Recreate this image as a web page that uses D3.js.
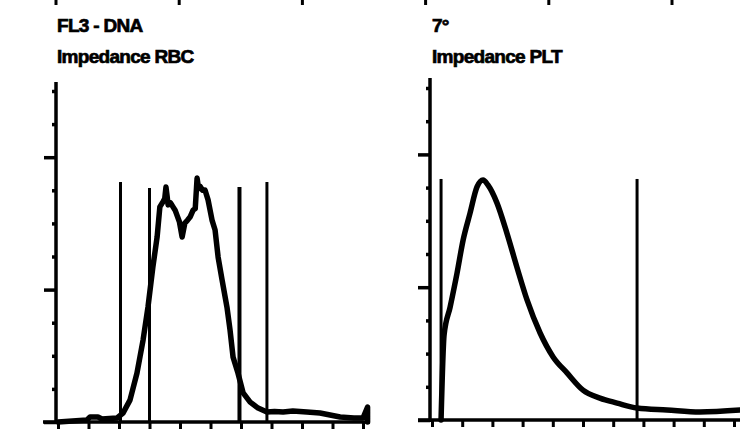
<!DOCTYPE html>
<html>
<head>
<meta charset="utf-8">
<script src="https://cdn.jsdelivr.net/npm/d3@7"></script>
<style>
  html, body { margin: 0; padding: 0; background: #fff; }
  svg { display: block; }
  text { font-family: "Liberation Sans", Arial, sans-serif; font-weight: bold; fill: #000; stroke: #000; stroke-width: 0.7px; }
</style>
</head>
<body>
<svg id="chart" width="740" height="433"></svg>
<script>
// ---------- data ----------
const panelTitles = ["FL3 - DNA", "7°"];
const panelSubtitles = ["Impedance RBC", "Impedance PLT"];
const xTickValues = [0,1,2,3,4,5,6,7,8,9,10];
const yTickValues = [0,1,2,3,4,5,6,7,8,9,10];
const yMajorTicks = [0,4,8];
const topFragmentTicks = [0,1,2,3,4,5];

// RBC histogram (channel, count)
const rbcX = [0,0.95,1.05,1.31,1.44,1.93,2.13,2.36,2.59,2.79,2.95,3.11,3.25,3.34,3.44,3.50,3.54,3.58,3.61,3.69,3.77,3.84,3.90,3.98,4.07,4.16,4.25,4.33,4.43,4.50,4.56,4.61,4.66,4.74,4.82,4.92,5.05,5.15,5.25,5.38,5.54,5.64,5.74,5.90,6.07,6.30,6.56,6.85,7.10,7.38,7.70,8.16,8.59,9.25,9.70,10.0,10.15,10.15];
const rbcY = [0,0.06,0.15,0.15,0.09,0.12,0.27,0.66,1.48,2.48,3.47,4.68,5.59,6.50,6.65,6.75,7.10,6.80,6.56,6.62,6.50,6.40,6.25,6.05,5.59,6.01,6.10,6.19,6.40,6.45,7.37,7.05,7.12,7.00,7.01,6.71,6.10,5.80,4.98,4.29,3.47,2.78,1.96,1.48,0.88,0.60,0.42,0.30,0.32,0.30,0.33,0.30,0.27,0.15,0.12,0.12,0.45,0];
const rbcGates = [2.05, 3.0, 5.95, 6.85];
const rbcGateTops = [7.25, 7.07, 7.1, 7.25];
const rbcGateWeights = [3, 3, 4, 3];

// PLT histogram
const pltX = [0.30,0.40,0.60,0.83,1.03,1.26,1.49,1.69,1.85,2.15,2.48,2.81,3.15,3.58,4.01,4.47,5.00,5.56,6.13,6.79,7.78,8.87,10.2];
const pltY = [0,2.56,3.40,4.43,5.42,6.23,7.02,7.23,7.08,6.54,5.63,4.61,3.61,2.62,1.90,1.42,0.90,0.66,0.51,0.36,0.30,0.24,0.30];
const pltGates = [0.30, 6.79];
const pltGateTops = [7.26, 7.26];
const pltGateWeights = [3, 3];

// ---------- layout ----------
const svg = d3.select("#chart");

const panels = [
  { title: panelTitles[0], sub: panelSubtitles[0], x: d3.scaleLinear().domain([0,10]).range([58,363]),
    y: d3.scaleLinear().domain([0,10]).range([422,91]), axisX: 56, xEnd: 370, xStart: 43, yTopVal: 10.27,
    titleX: 57, xs: rbcX, ys: rbcY, gates: rbcGates, gateTops: rbcGateTops, gateW: rbcGateWeights, curve: d3.curveLinear },
  { title: panelTitles[1], sub: panelSubtitles[1], x: d3.scaleLinear().domain([0,10]).range([432,734]),
    y: d3.scaleLinear().domain([0,10]).range([420,88]), axisX: 430, xEnd: 740, xStart: 418, yTopVal: 10.3,
    titleX: 432, xs: pltX, ys: pltY, gates: pltGates, gateTops: pltGateTops, gateW: pltGateWeights, curve: d3.curveMonotoneX }
];

// cropped tick fragments from the panel row above
const topScale = d3.scaleLinear().domain([0,5]).range([56,672]);
svg.append("g").selectAll("line").data(topFragmentTicks).join("line")
  .attr("x1", d => topScale(d)).attr("x2", d => topScale(d))
  .attr("y1", 0).attr("y2", 5)
  .attr("stroke", "#000").attr("stroke-width", 3);

panels.forEach(p => {
  const g = svg.append("g");

  g.append("text").attr("x", p.titleX).attr("y", 32)
    .attr("font-size", 19).attr("letter-spacing", "-0.7px").text(p.title);
  g.append("text").attr("x", p.titleX).attr("y", 63)
    .attr("font-size", 19).attr("letter-spacing", "-0.7px").text(p.sub);

  // y axis: minor + major ticks
  const yMinor = d3.axisLeft(p.y).tickValues(yTickValues.filter(v => !yMajorTicks.includes(v)))
    .tickSize(4).tickFormat("");
  const yMajor = d3.axisLeft(p.y).tickValues(yMajorTicks).tickSize(12).tickFormat("");
  [yMinor, yMajor].forEach(ax => {
    const a = g.append("g").attr("transform", `translate(${p.axisX},0)`).call(ax);
    a.select(".domain").remove();
    a.selectAll(".tick line").attr("stroke", "#000").attr("stroke-width", 3.5);
  });

  // x axis ticks
  const xAx = d3.axisBottom(p.x).tickValues(xTickValues).tickSize(7).tickFormat("");
  const xa = g.append("g").attr("transform", `translate(0,${p.y(0)})`).call(xAx);
  xa.select(".domain").remove();
  xa.selectAll(".tick line").attr("stroke", "#000").attr("stroke-width", 3);

  // axis lines
  g.append("line").attr("x1", p.axisX).attr("x2", p.axisX)
    .attr("y1", p.y(p.yTopVal)).attr("y2", p.y(0) + 2)
    .attr("stroke", "#000").attr("stroke-width", 3.5);
  g.append("line").attr("x1", p.xStart).attr("x2", p.xEnd)
    .attr("y1", p.y(0)).attr("y2", p.y(0))
    .attr("stroke", "#000").attr("stroke-width", 3.5);

  // gate lines
  g.append("g").selectAll("line").data(p.gates).join("line")
    .attr("x1", d => p.x(d)).attr("x2", d => p.x(d))
    .attr("y1", (d, i) => p.y(p.gateTops[i])).attr("y2", p.y(0))
    .attr("stroke", "#000").attr("stroke-width", (d, i) => p.gateW[i]);

  // curve
  const pts = p.xs.map((v, i) => [v, p.ys[i]]);
  const line = d3.line().x(d => p.x(d[0])).y(d => p.y(d[1])).curve(p.curve);
  g.append("path").datum(pts).attr("d", line)
    .attr("fill", "none").attr("stroke", "#000").attr("stroke-width", 5.5)
    .attr("stroke-linejoin", "round").attr("stroke-linecap", "round");
});
</script>
</body>
</html>
